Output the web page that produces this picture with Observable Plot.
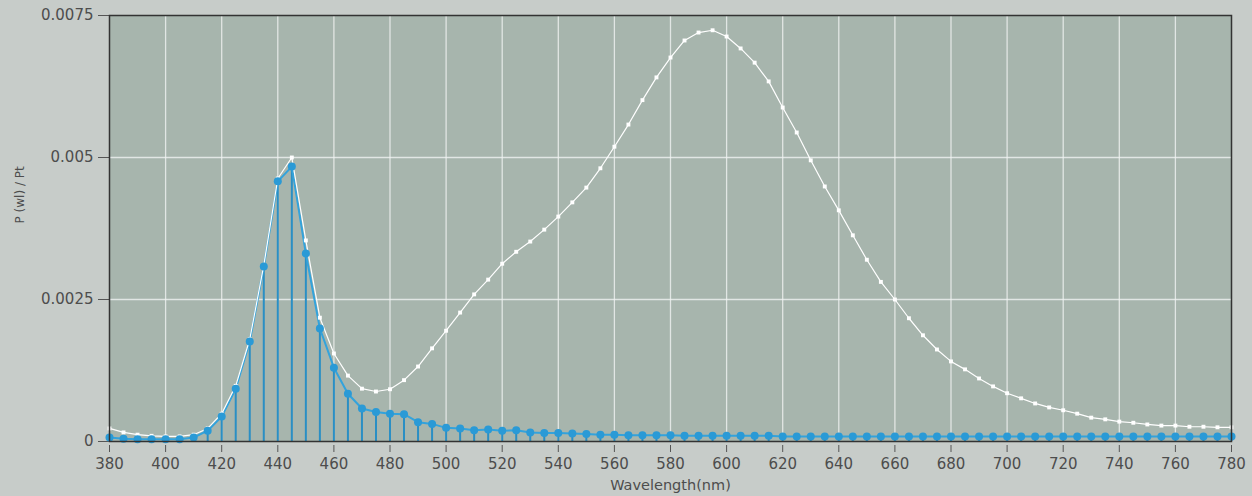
<!DOCTYPE html>
<html><head><meta charset="utf-8">
<script src="https://cdn.jsdelivr.net/npm/d3@7"></script>
<script src="https://cdn.jsdelivr.net/npm/@observablehq/plot@0.6"></script>
<style>
html,body{margin:0;padding:0;background:#c7ccc9;}
#chart{width:1252px;height:496px;overflow:hidden;}
</style></head><body><div id="chart"></div>
<script>
const wavelengths = [380,385,390,395,400,405,410,415,420,425,430,435,440,445,450,455,460,465,470,475,480,485,490,495,500,505,510,515,520,525,530,535,540,545,550,555,560,565,570,575,580,585,590,595,600,605,610,615,620,625,630,635,640,645,650,655,660,665,670,675,680,685,690,695,700,705,710,715,720,725,730,735,740,745,750,755,760,765,770,775,780];
const whiteSeries = [0.00023,0.00016,0.00012,0.00010,0.00009,0.00009,0.00012,0.00023,0.00049,0.00098,0.00180,0.00310,0.00463,0.00500,0.00354,0.00218,0.00155,0.00116,0.00093,0.00088,0.00092,0.00108,0.00132,0.00164,0.00195,0.00227,0.00259,0.00285,0.00313,0.00334,0.00352,0.00373,0.00396,0.00421,0.00447,0.00481,0.00519,0.00558,0.00601,0.00641,0.00676,0.00706,0.00720,0.00724,0.00713,0.00692,0.00667,0.00634,0.00588,0.00544,0.00495,0.00449,0.00407,0.00363,0.00320,0.00281,0.00250,0.00217,0.00187,0.00162,0.00141,0.00127,0.00111,0.00097,0.00085,0.00076,0.00067,0.00060,0.00055,0.00049,0.00042,0.00039,0.00035,0.00033,0.00030,0.00028,0.00028,0.00026,0.00026,0.00025,0.00025];
const blueSeries = [0.00007,0.00005,0.00004,0.00004,0.00004,0.00004,0.00007,0.00019,0.00044,0.00093,0.00176,0.00308,0.00458,0.00484,0.00331,0.00199,0.00130,0.00084,0.00058,0.00052,0.00049,0.00048,0.00034,0.00031,0.00024,0.00023,0.00020,0.00021,0.00019,0.00020,0.00016,0.00015,0.00015,0.00014,0.00013,0.00012,0.00012,0.00011,0.00011,0.00011,0.00011,0.00010,0.00010,0.00010,0.00010,0.00010,0.00010,0.00010,0.00009,0.00009,0.00009,0.00009,0.00009,0.00009,0.00009,0.00009,0.00009,0.00009,0.00009,0.00009,0.00009,0.00009,0.00009,0.00009,0.00009,0.00009,0.00009,0.00009,0.00009,0.00009,0.00009,0.00009,0.00009,0.00009,0.00009,0.00009,0.00009,0.00009,0.00009,0.00009,0.00009];
const xTicks = [380,400,420,440,460,480,500,520,540,560,580,600,620,640,660,680,700,720,740,760,780];
const yTicks = [0,0.0025,0.005,0.0075];
const yTickLabels = ["0","0.0025","0.005","0.0075"];
const xLabel = "Wavelength(nm)";
const yLabel = "P (wl) / Pt";

const white = wavelengths.map((w,i)=>({w, v: whiteSeries[i]}));
const blue = wavelengths.map((w,i)=>({w, v: blueSeries[i]}));

const chart = Plot.plot({
  width:1252, height:496,
  marginLeft:109, marginRight:21, marginTop:15, marginBottom:55,
  style:{background:"#c7ccc9", fontFamily:"DejaVu Sans", fontSize:"15px", color:"#4d4d4d", overflow:"visible"},
  x:{domain:[380,780]},
  y:{domain:[0,0.0075]},
  marks:[
    Plot.frame({fill:"#a7b5ad"}),
    Plot.gridX(xTicks.slice(1,-1), {stroke:"#f0f3f1", strokeOpacity:0.8, strokeWidth:1.3}),
    Plot.gridY([0.0025,0.005], {stroke:"#f0f3f1", strokeOpacity:0.8, strokeWidth:1.3}),
    Plot.axisX(xTicks, {tickSize:7, dy:4, tickPadding:6, label:null, fontSize:15, stroke:"#555", fill:"#4d4d4d"}),
    Plot.axisY(yTicks, {tickSize:11, tickPadding:5, tickFormat:(d)=>yTickLabels[yTicks.indexOf(d)], label:null, fontSize:15, stroke:"#555", fill:"#4d4d4d"}),
    Plot.ruleX(blue, {x:"w", y1:0, y2:"v", stroke:"#2a8fc4", strokeWidth:2}),
    Plot.line(blue, {x:"w", y:"v", stroke:"#33a3dc", strokeWidth:2}),
    Plot.line(white, {x:"w", y:"v", stroke:"#ffffff", strokeWidth:1.2}),
    Plot.dot(white, {x:"w", y:"v", symbol:"square", r:2.2, fill:"#ffffff", stroke:null}),
    Plot.dot(blue, {x:"w", y:"v", r:4, fill:"#2a9ad6", stroke:null}),
    Plot.frame({stroke:"#333", strokeWidth:1.5}),
    Plot.text([xLabel], {frameAnchor:"bottom", dy:48, fontSize:14.5, fill:"#4d4d4d"}),
    Plot.text([yLabel], {frameAnchor:"left", dx:-89, dy:-5, rotate:-90, fontSize:12, fill:"#4d4d4d"})
  ]
});
document.getElementById("chart").appendChild(chart);
</script>
</body></html>
